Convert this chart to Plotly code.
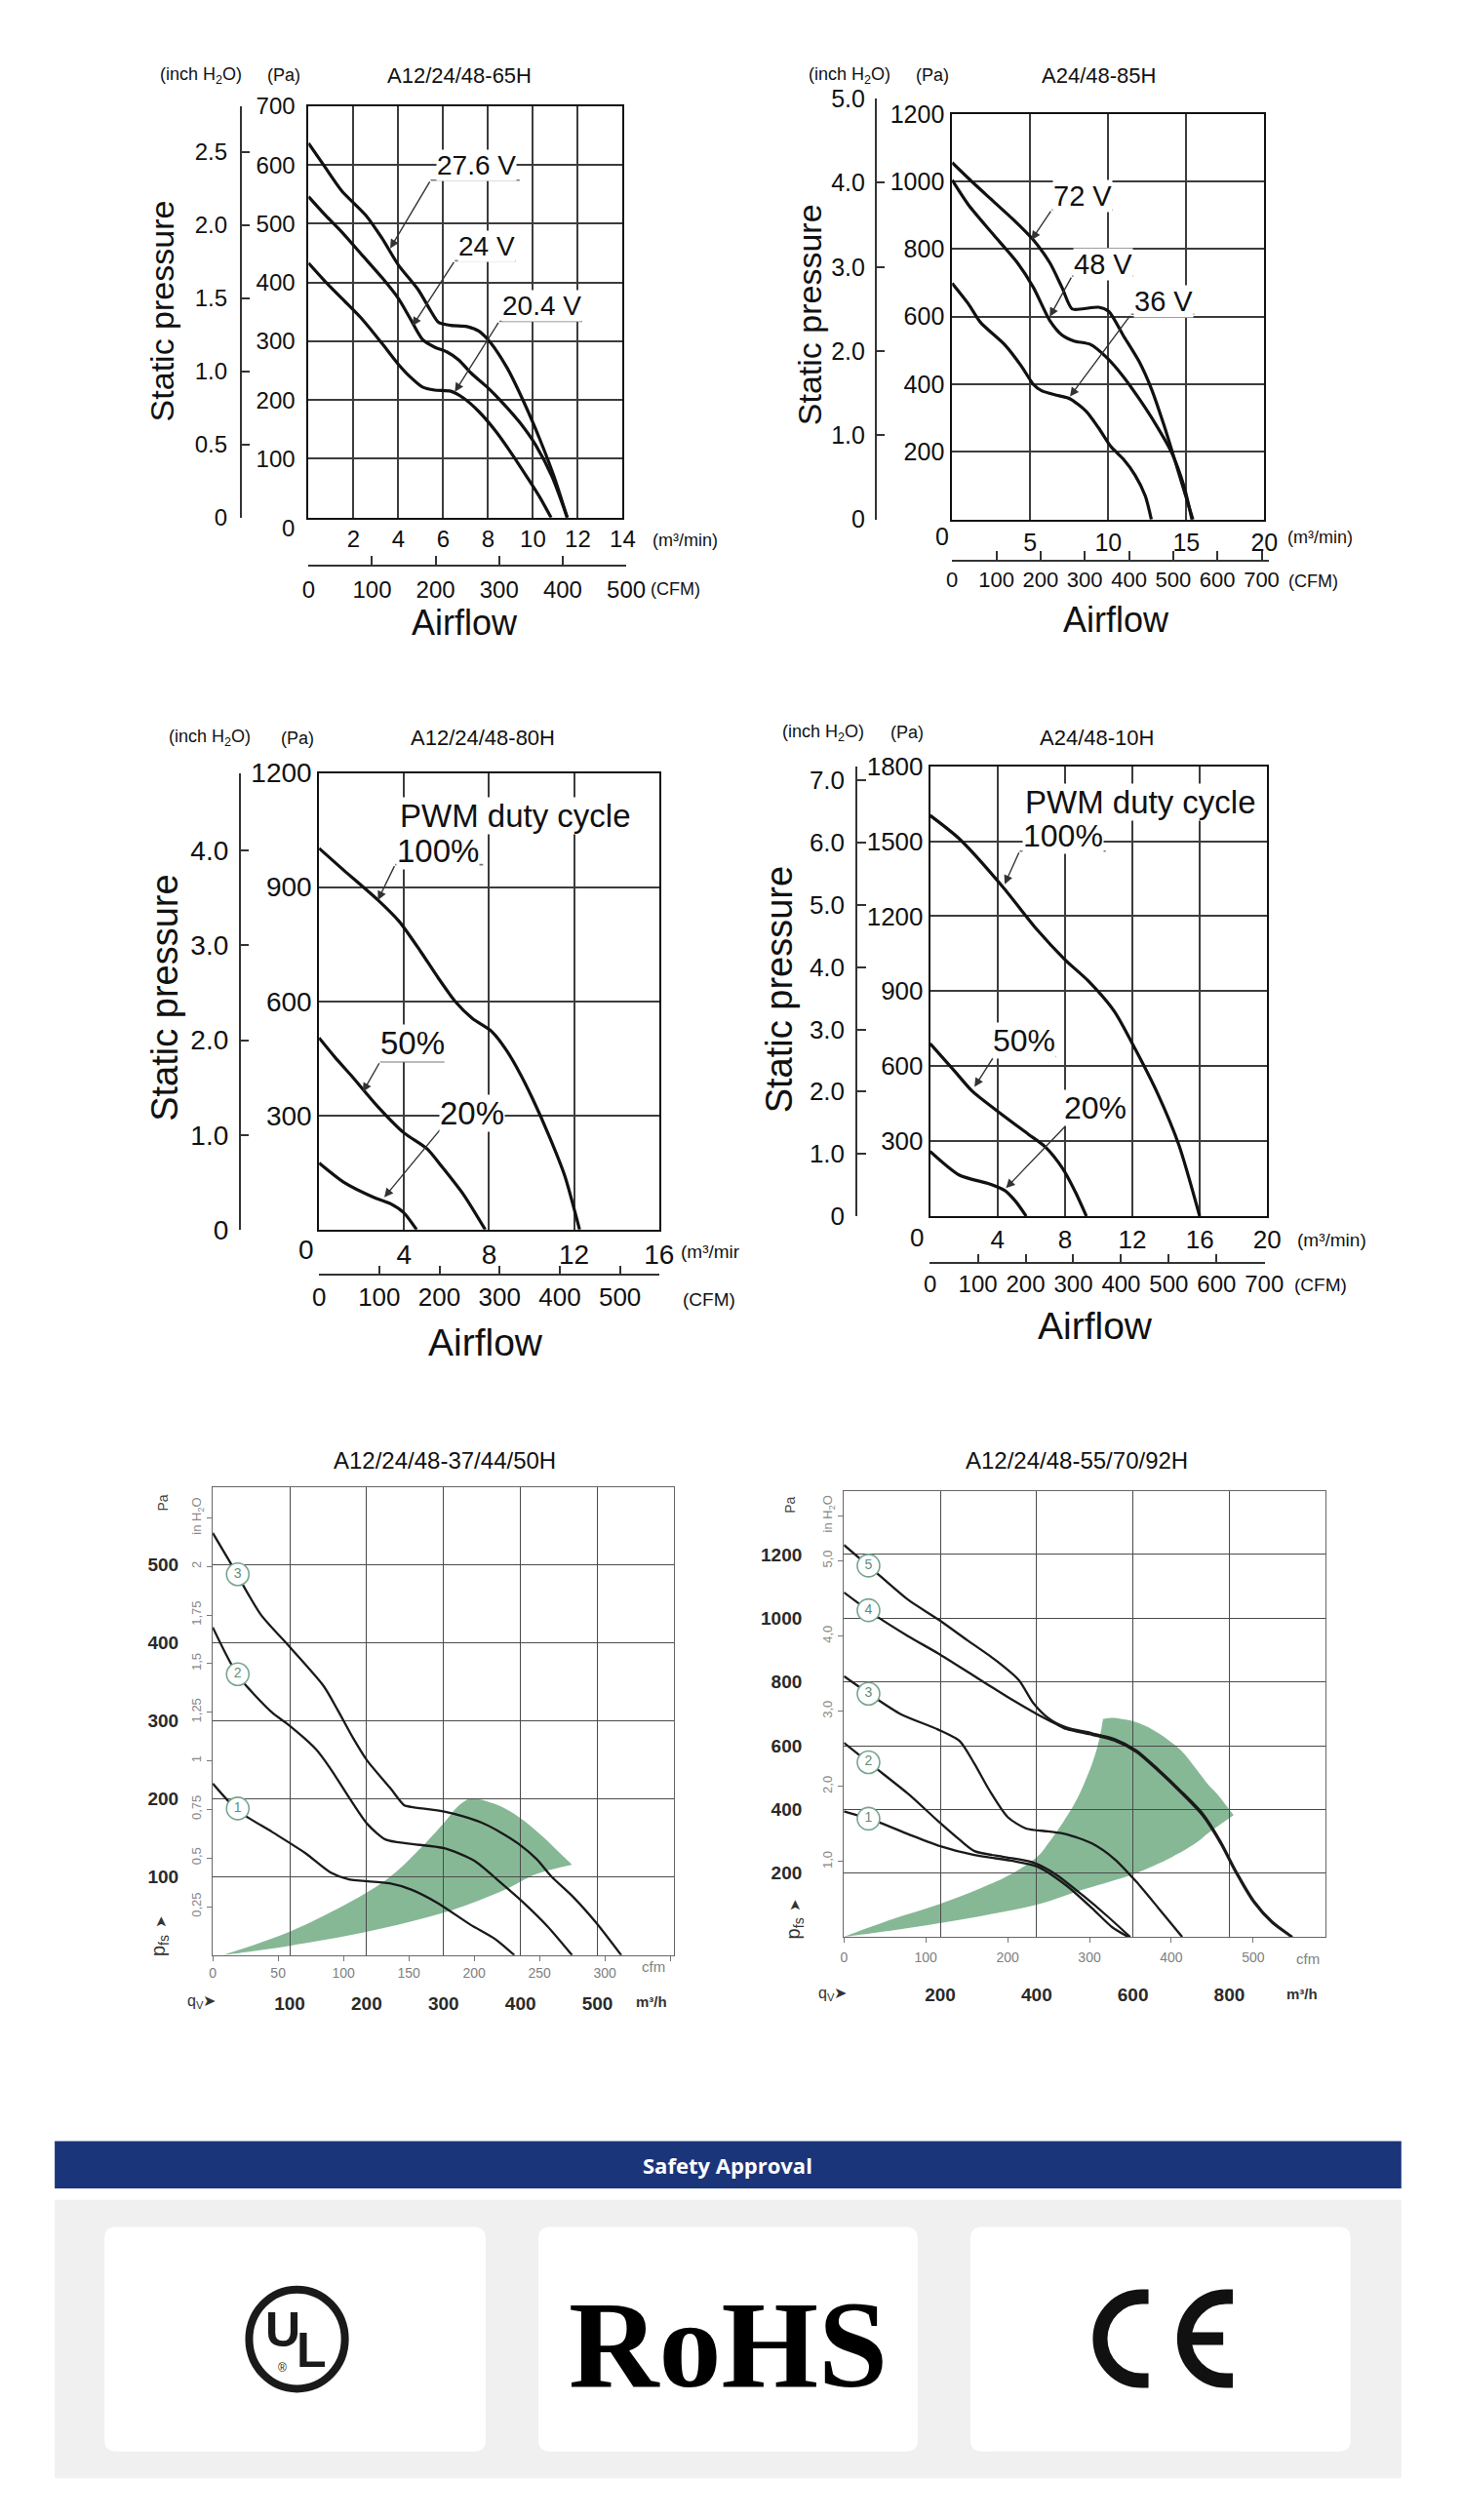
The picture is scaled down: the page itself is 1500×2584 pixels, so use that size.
import plotly.graph_objects as go

W, H = 1500, 2584
PA_PER_INCH = 249.0
CFM_PER_M3MIN = 35.315
M3H_PER_CFM = 1.699

SANS = "Liberation Sans, Arial, Helvetica, sans-serif"

# ------------------------------------------------------------------ data
# Chart 1: A12/24/48-65H   (m3/min , Pa)
c1_title = "A12/24/48-65H"
c1_flow_ticks = [2, 4, 6, 8, 10, 12, 14]
c1_pa_ticks = [100, 200, 300, 400, 500, 600, 700]
c1_inch_ticks = [0, 0.5, 1.0, 1.5, 2.0, 2.5]
c1_inch_text = ["0", "0.5", "1.0", "1.5", "2.0", "2.5"]
c1_cfm_ticks = [0, 100, 200, 300, 400, 500]
c1_names = ["27.6 V", "24 V", "20.4 V"]
c1_x_276 = [0, 0.76, 1.48, 2.56, 3.28, 4.0, 4.9, 5.44, 5.8, 6.34, 7.06, 7.6, 8.14, 8.86, 9.59, 10.3, 10.94, 11.53]
c1_y_276 = [637, 595, 556, 514, 475, 430, 387, 352, 332, 327, 325, 317, 296, 254, 197, 134, 70, 0]
c1_x_24 = [0, 0.76, 1.48, 2.38, 3.28, 4.0, 4.54, 5.08, 5.62, 6.16, 6.7, 7.24, 7.96, 8.68, 9.41, 10.13, 10.85, 11.53]
c1_y_24 = [546, 514, 486, 447, 408, 373, 338, 303, 290, 282, 268, 246, 222, 194, 162, 123, 70, 0]
c1_x_204 = [0, 0.76, 1.48, 2.38, 3.28, 4.0, 4.54, 5.08, 5.62, 6.34, 6.88, 7.6, 8.32, 9.05, 9.77, 10.3, 10.81]
c1_y_204 = [433, 401, 373, 338, 296, 261, 239, 222, 217, 215, 204, 180, 148, 109, 67, 35, 0]

# Chart 2: A24/48-85H
c2_title = "A24/48-85H"
c2_flow_ticks = [5, 10, 15, 20]
c2_pa_ticks = [200, 400, 600, 800, 1000, 1200]
c2_inch_ticks = [0, 1, 2, 3, 4, 5]
c2_inch_text = ["0", "1.0", "2.0", "3.0", "4.0", "5.0"]
c2_cfm_ticks = [0, 100, 200, 300, 400, 500, 600, 700]
c2_names = ["72 V", "48 V", "36 V"]
c2_x_72 = [0, 1.3, 2.6, 3.9, 5.2, 6.25, 7.03, 7.68, 8.33, 9.38, 10.03, 10.94, 11.98, 12.76, 13.54, 14.32, 15.42]
c2_y_72 = [1056, 998, 943, 888, 827, 760, 687, 623, 623, 628, 616, 546, 467, 387, 283, 167, 0]
c2_x_48 = [0, 1.04, 2.6, 4.17, 5.2, 6.25, 7.03, 7.81, 8.85, 9.9, 10.94, 11.98, 13.02, 14.06, 14.84, 15.36]
c2_y_48 = [1004, 931, 845, 760, 687, 589, 546, 528, 518, 479, 424, 357, 283, 198, 100, 0]
c2_x_36 = [0, 1.04, 1.82, 3.39, 4.43, 5.2, 5.73, 6.77, 7.55, 8.59, 9.38, 10.16, 10.94, 11.72, 12.37, 12.76]
c2_y_36 = [699, 638, 583, 516, 454, 400, 381, 367, 357, 320, 271, 216, 180, 131, 70, 0]

# Chart 3: A12/24/48-80H
c3_title = "A12/24/48-80H"
c3_flow_ticks = [4, 8, 12, 16]
c3_pa_ticks = [300, 600, 900, 1200]
c3_inch_ticks = [0, 1, 2, 3, 4]
c3_inch_text = ["0", "1.0", "2.0", "3.0", "4.0"]
c3_cfm_ticks = [0, 100, 200, 300, 400, 500]
c3_names = ["100%", "50%", "20%"]
c3_x_100 = [0, 1.15, 2.77, 3.78, 4.79, 5.6, 6.4, 7.21, 8.12, 8.83, 9.43, 10.04, 10.85, 11.56, 12.26]
c3_y_100 = [1002, 945, 866, 809, 730, 662, 600, 555, 521, 470, 413, 345, 243, 142, 0]
c3_x_50 = [0, 0.75, 1.56, 2.77, 3.98, 5.09, 5.8, 6.81, 7.82]
c3_y_50 = [504, 453, 402, 323, 255, 212, 164, 91, 0]
c3_x_20 = [0, 1.15, 2.57, 3.37, 3.98, 4.59]
c3_y_20 = [175, 125, 85, 68, 45, 0]

# Chart 4: A24/48-10H
c4_title = "A24/48-10H"
c4_flow_ticks = [4, 8, 12, 16, 20]
c4_pa_ticks = [300, 600, 900, 1200, 1500, 1800]
c4_inch_ticks = [0, 1, 2, 3, 4, 5, 6, 7]
c4_inch_text = ["0", "1.0", "2.0", "3.0", "4.0", "5.0", "6.0", "7.0"]
c4_cfm_ticks = [0, 100, 200, 300, 400, 500, 600, 700]
c4_names = ["100%", "50%", "20%"]
c4_x_100 = [0, 1.74, 4.29, 6.33, 8.0, 9.4, 10.93, 12.2, 13.49, 14.76, 15.99]
c4_y_100 = [1603, 1509, 1319, 1147, 1026, 940, 819, 664, 491, 284, 0]
c4_x_50 = [0, 1.48, 2.5, 4.29, 5.82, 6.85, 7.87, 8.63, 9.27]
c4_y_50 = [690, 578, 500, 405, 328, 276, 190, 95, 0]
c4_x_20 = [0, 1.74, 3.52, 4.42, 5.06, 5.7]
c4_y_20 = [259, 164, 129, 103, 60, 0]

# Chart 5: A12/24/48-37/44/50H   (m3/h , Pa)
c5_title = "A12/24/48-37/44/50H"
c5_flow_ticks = [100, 200, 300, 400, 500]
c5_pa_ticks = [100, 200, 300, 400, 500]
c5_cfm_ticks = [0, 50, 100, 150, 200, 250, 300, 350]
c5_cfm_text = ["0", "50", "100", "150", "200", "250", "300", ""]
c5_inch_ticks = [0.25, 0.5, 0.75, 1.0, 1.25, 1.5, 1.75, 2.0, 2.25]
c5_inch_text = ["0,25", "0,5", "0,75", "1", "1,25", "1,5", "1,75", "2", "in H<sub>2</sub>O"]
c5_curve_ids = ["3", "2", "1"]
c5_x_3 = [0, 24, 62, 100, 144, 163, 182, 201, 230, 249, 258, 301, 325, 349, 373, 397, 421, 440, 469, 498, 531]
c5_y_3 = [541, 501, 437, 395, 345, 313, 279, 249, 215, 192, 190, 184, 178, 170, 158, 143, 123, 101, 74, 42, 0]
c5_x_2 = [0, 33, 77, 100, 134, 153, 172, 201, 225, 254, 301, 340, 373, 402, 435, 467]
c5_y_2 = [420, 358, 311, 294, 264, 239, 210, 168, 148, 143, 137, 121, 94, 69, 37, 0]
c5_x_1 = [0, 33, 77, 120, 153, 177, 230, 258, 292, 335, 368, 392]
c5_y_1 = [220, 185, 158, 131, 106, 97, 92, 84, 67, 39, 20, 0]
c5_area_upper_x = [14, 100, 182, 230, 268, 299, 318, 333]
c5_area_upper_y = [0, 30, 70, 100, 135, 168, 190, 201]
c5_area_outer_x = [333, 354, 380, 405, 430, 452, 467]
c5_area_outer_y = [201, 198, 188, 172, 151, 130, 116]
c5_area_lower_x = [467, 421, 373, 299, 201, 100, 14]
c5_area_lower_y = [116, 104, 81, 54, 30, 12, 0]

# Chart 6: A12/24/48-55/70/92H
c6_title = "A12/24/48-55/70/92H"
c6_flow_ticks = [200, 400, 600, 800]
c6_pa_ticks = [200, 400, 600, 800, 1000, 1200]
c6_cfm_ticks = [0, 100, 200, 300, 400, 500]
c6_inch_ticks = [1, 2, 3, 4, 5, 5.6]
c6_inch_text = ["1,0", "2,0", "3,0", "4,0", "5,0", "in H<sub>2</sub>O"]
c6_curve_ids = ["5", "4", "3", "2", "1"]
c6_x_5 = [0, 65, 134, 195, 256, 317, 363, 393, 424, 462, 515, 561, 607, 653, 698, 744, 782, 813, 851, 889, 931]
c6_y_5 = [1230, 1146, 1057, 997, 931, 866, 806, 734, 687, 657, 639, 621, 585, 525, 460, 388, 299, 209, 113, 48, 0]
c6_x_4 = [0, 65, 134, 195, 271, 347, 401, 439, 462, 515, 561, 607, 653, 698, 744, 782, 813, 851, 889, 929]
c6_y_4 = [1081, 1009, 943, 890, 818, 746, 699, 669, 652, 634, 616, 580, 520, 455, 382, 293, 203, 108, 44, 0]
c6_x_3 = [0, 57, 118, 195, 240, 271, 302, 340, 378, 424, 462, 515, 561, 607, 653, 702]
c6_y_3 = [818, 758, 699, 651, 615, 543, 460, 376, 340, 331, 322, 293, 245, 173, 90, 0]
c6_x_2 = [0, 65, 134, 195, 240, 271, 332, 393, 439, 500, 546, 594]
c6_y_2 = [609, 531, 448, 364, 305, 269, 251, 233, 197, 125, 66, 0]
c6_x_1 = [0, 65, 134, 195, 271, 347, 401, 462, 515, 557, 590]
c6_y_1 = [394, 364, 322, 287, 257, 239, 221, 161, 90, 30, 0]
c6_area_upper_x = [0, 100, 195, 280, 347, 400, 424, 455, 485, 515, 530, 538]
c6_area_upper_y = [0, 55, 101, 150, 197, 250, 293, 360, 436, 543, 620, 684]
c6_area_outer_x = [538, 561, 610, 653, 700, 729, 755, 775, 809]
c6_area_outer_y = [684, 687, 672, 639, 585, 531, 480, 448, 382]
c6_area_lower_x = [809, 760, 729, 680, 601, 500, 401, 300, 195, 100, 0]
c6_area_lower_y = [382, 330, 293, 250, 197, 150, 101, 70, 42, 20, 0]

approvals = ["UL", "RoHS", "CE"]
banner_title = "Safety Approval"

# ------------------------------------------------------------------ helpers
fig = go.Figure()
layout = {}
shapes = []
annotations = []


def X(p):
    return p / W


def Y(p):
    return 1 - p / H


def P(x, y):
    return f"{X(x):.6f},{Y(y):.6f}"


def akey(kind, n):
    return f"{kind}axis" if n == 1 else f"{kind}axis{n}"


def aref(kind, n):
    return kind if n == 1 else f"{kind}{n}"


def dummy(xn, yn):
    fig.add_trace(go.Scatter(x=[None], y=[None], xaxis=aref("x", xn), yaxis=aref("y", yn),
                             mode="markers", hoverinfo="skip", showlegend=False))


def text(x, y, s, size, color="#111", family=SANS, angle=0, xanchor="center", bold=False):
    annotations.append(dict(x=X(x), y=Y(y), xref="paper", yref="paper", text=s, showarrow=False,
                            font=dict(size=size, color=color, family=family,
                                      weight="bold" if bold else "normal"),
                            textangle=angle, xanchor=xanchor, yanchor="middle"))


def top_chart(n, box, xmax, ymax, xt, yt, inch_x, inch_top, it, itext, cfm_y, cfm_max, ct,
              curves, labels, tsize, csize, stand, lsize):
    L, T, R, B = box
    gx, gy = aref("x", n), aref("y", n)
    tf = dict(size=tsize, family=SANS, color="#111")
    layout[akey("x", n)] = dict(domain=[X(L), X(R)], range=[0, xmax], anchor=gy,
                                tickvals=xt, ticktext=[str(v) for v in xt], ticks="", ticklen=0,
                                tickangle=0, showgrid=True, gridcolor="#3c3c3c", gridwidth=1.6,
                                showline=True, linecolor="#111", linewidth=1.8, mirror=True,
                                zeroline=False, ticklabelstandoff=stand[0], tickfont=tf)
    layout[akey("y", n)] = dict(domain=[Y(B), Y(T)], range=[0, ymax], anchor=gx,
                                tickvals=yt, ticktext=[str(v) for v in yt], ticks="", ticklen=0,
                                showgrid=True, gridcolor="#3c3c3c", gridwidth=1.6,
                                showline=True, linecolor="#111", linewidth=1.8, mirror=True,
                                zeroline=False, ticklabelstandoff=stand[1], tickfont=tf)
    # inch H2O axis
    pix_pa = (B - T) / ymax
    line_top = B - inch_top * PA_PER_INCH * pix_pa
    layout[akey("x", n + 1)] = dict(domain=[X(inch_x), X(inch_x + 2)], range=[0, 1],
                                    visible=False, anchor=aref("y", n + 1))
    layout[akey("y", n + 1)] = dict(domain=[Y(B), Y(line_top)], range=[0, inch_top],
                                    anchor=aref("x", n + 1), side="left", showline=True,
                                    linecolor="#333", linewidth=1.5, ticks="inside", ticklen=9,
                                    tickwidth=1.5, tickcolor="#333", tickvals=it, ticktext=itext,
                                    showgrid=False, zeroline=False, ticklabelstandoff=stand[2],
                                    tickfont=tf)
    dummy(n + 1, n + 1)
    # CFM axis
    pix_m3 = (R - L) / xmax
    lo, hi = -0.5, cfm_max + 0.5
    xl = L + lo / CFM_PER_M3MIN * pix_m3
    xr = L + hi / CFM_PER_M3MIN * pix_m3
    layout[akey("x", n + 2)] = dict(domain=[X(xl), X(xr)], range=[lo, hi], anchor=aref("y", n + 2),
                                    showline=True, linecolor="#333", linewidth=1.5, ticks="inside",
                                    ticklen=9, tickwidth=1.5, tickcolor="#333", tickvals=ct,
                                    ticktext=[str(v) for v in ct], showgrid=False, zeroline=False,
                                    tickangle=0, ticklabelstandoff=stand[3],
                                    tickfont=dict(size=csize, family=SANS, color="#111"))
    layout[akey("y", n + 2)] = dict(domain=[Y(cfm_y), Y(cfm_y - 2)], range=[0, 1], visible=False,
                                    anchor=aref("x", n + 2))
    dummy(n + 2, n + 2)
    for xs, ys in curves:
        fig.add_trace(go.Scatter(x=xs, y=ys, xaxis=gx, yaxis=gy, mode="lines", hoverinfo="skip",
                                 line=dict(color="#111", width=3.2, shape="spline", smoothing=0.7)))
    for lab in labels:
        name, tx, ty, ux0, ux1, uy, ptx, pty = lab
        shapes.append(dict(type="line", xref=gx, yref=gy, x0=ux0, x1=ux1, y0=uy, y1=uy,
                           line=dict(color="#777", width=1.6), layer="above"))
        annotations.append(dict(x=ptx, y=pty, ax=ux0, ay=uy, xref=gx, yref=gy, axref=gx, ayref=gy,
                                text="", showarrow=True, arrowhead=2, arrowsize=1.3,
                                arrowwidth=1.4, arrowcolor="#333", standoff=0))
        annotations.append(dict(x=tx, y=ty, xref=gx, yref=gy, text=name, showarrow=False,
                                bgcolor="white", borderpad=0,
                                font=dict(size=lsize, family=SANS, color="#111")))


def cr(pts):
    s = ""
    for i in range(len(pts) - 1):
        p0 = pts[i - 1] if i > 0 else pts[i]
        p1, p2 = pts[i], pts[i + 1]
        p3 = pts[i + 2] if i + 2 < len(pts) else pts[i + 1]
        c1 = (p1[0] + (p2[0] - p0[0]) / 6, p1[1] + (p2[1] - p0[1]) / 6)
        c2 = (p2[0] - (p3[0] - p1[0]) / 6, p2[1] - (p3[1] - p1[1]) / 6)
        s += f" C {c1[0]:.3f},{c1[1]:.3f} {c2[0]:.3f},{c2[1]:.3f} {p2[0]:.3f},{p2[1]:.3f}"
    return s


def bottom_chart(n, box, xmax, ymax, xt, yt, ct, ctext, it, itext, pa_per_inch, curves, ids,
                 circ_x, circ_y, area, stand):
    L, T, R, B = box
    gx, gy = aref("x", n), aref("y", n)
    bold = dict(size=19, family=SANS, color="#2a2a2a", weight="bold")
    layout[akey("x", n)] = dict(domain=[X(L), X(R)], range=[0, xmax], anchor=gy, tickvals=xt,
                                ticktext=[str(v) for v in xt], ticks="", ticklen=0, tickangle=0,
                                showgrid=True, gridcolor="#4a4a4a", gridwidth=1.3, showline=True,
                                linecolor="#666", linewidth=1.3, mirror=True, zeroline=False,
                                ticklabelstandoff=stand[0], tickfont=bold)
    layout[akey("x", n + 1)] = dict(overlaying=gx, anchor=gy, side="bottom",
                                    range=[0, xmax / M3H_PER_CFM], tickvals=ct, ticktext=ctext,
                                    ticks="outside", ticklen=5, tickcolor="#777", tickwidth=1.2,
                                    tickangle=0, showgrid=False, showline=False, zeroline=False,
                                    ticklabelstandoff=stand[1],
                                    tickfont=dict(size=14, family=SANS, color="#808080"))
    layout[akey("y", n)] = dict(domain=[Y(B), Y(T)], range=[0, ymax], anchor=gx, tickvals=yt,
                                ticktext=[str(v) for v in yt], ticks="", ticklen=0, showgrid=True,
                                gridcolor="#4a4a4a", gridwidth=1.3, showline=True,
                                linecolor="#666", linewidth=1.3, mirror=True, zeroline=False,
                                ticklabelstandoff=stand[2], tickfont=bold)
    layout[akey("y", n + 1)] = dict(overlaying=gy, anchor=gx, side="left",
                                    range=[0, ymax / pa_per_inch], tickvals=it, ticktext=itext,
                                    tickangle=-90, ticks="outside", ticklen=5, tickcolor="#777",
                                    tickwidth=1.2, showgrid=False, showline=False, zeroline=False,
                                    ticklabelstandoff=stand[3],
                                    tickfont=dict(size=13, family=SANS, color="#888"))
    dummy(n + 1, n)
    dummy(n, n + 1)
    (ux, uy), (ox, oy), (lx, ly) = area
    pts_u = list(zip(ux, uy))
    pts_o = list(zip(ox, oy))
    pts_l = list(zip(lx, ly))
    path = f"M {pts_u[0][0]},{pts_u[0][1]}" + cr(pts_u) + cr(pts_o) + cr(pts_l) + " Z"
    shapes.append(dict(type="path", xref=gx, yref=gy, path=path, fillcolor="#86b896",
                       line=dict(width=0), layer="below"))
    for xs, ys in curves:
        fig.add_trace(go.Scatter(x=xs, y=ys, xaxis=gx, yaxis=gy, mode="lines", hoverinfo="skip",
                                 line=dict(color="#1a1a1a", width=2.3, shape="spline", smoothing=0.7)))
    fig.add_trace(go.Scatter(x=circ_x, y=circ_y, xaxis=gx, yaxis=gy, mode="markers+text",
                             text=ids, textposition="middle center", hoverinfo="skip",
                             marker=dict(size=23, color="white", line=dict(color="#76a58e", width=1.6)),
                             textfont=dict(size=14, family=SANS, color="#5f8f78")))


# ------------------------------------------------------------------ chart 1
top_chart(1, (315, 95, 643, 522), 14, 700, c1_flow_ticks, c1_pa_ticks, 245, 700 / PA_PER_INCH,
          c1_inch_ticks, c1_inch_text, 571, 500, c1_cfm_ticks,
          [(c1_x_276, c1_y_276), (c1_x_24, c1_y_24), (c1_x_204, c1_y_204)],
          [(c1_names[0], 7.5, 600, 5.44, 9.41, 574, 3.64, 458),
           (c1_names[1], 7.96, 462, 6.52, 9.23, 437, 4.63, 326),
           (c1_names[2], 10.4, 360, 8.5, 12.2, 334, 6.52, 214)],
          24, 24, (0, 7, 8, 3), 28)
text(472, 63, c1_title, 22)
text(203, 63, "(inch H<sub>2</sub>O)", 18)
text(289, 63, "(Pa)", 18)
text(162, 308, "Static pressure", 34, angle=-90)
text(478, 631, "Airflow", 36)
text(294, 533, "0", 24)
text(708, 546, "(m³/min)", 18)
text(698, 596, "(CFM)", 18)

# ------------------------------------------------------------------ chart 2
top_chart(4, (987, 103, 1313, 524), 20, 1200, c2_flow_ticks, c2_pa_ticks, 908, 5.0,
          c2_inch_ticks, c2_inch_text, 566, 715, c2_cfm_ticks,
          [(c2_x_72, c2_y_72), (c2_x_48, c2_y_48), (c2_x_36, c2_y_36)],
          [(c2_names[0], 8.33, 957, 6.38, 10.29, 916, 5.08, 827),
           (c2_names[1], 9.64, 756, 7.68, 11.59, 720, 6.25, 600),
           (c2_names[2], 13.54, 646, 11.46, 15.5, 607, 7.55, 364)],
          25, 22, (0, 1, 5, 0), 29)
text(1140, 63, c2_title, 22)
text(880, 63, "(inch H<sub>2</sub>O)", 18)
text(966, 63, "(Pa)", 18)
text(838, 311, "Static pressure", 34, angle=-90)
text(1158, 628, "Airflow", 36)
text(977, 541, "0", 25)
text(1371, 543, "(m³/min)", 18)
text(1364, 588, "(CFM)", 18)

# ------------------------------------------------------------------ chart 3
top_chart(7, (326, 787, 681, 1261), 16, 1200, c3_flow_ticks, c3_pa_ticks, 244, 1200 / PA_PER_INCH,
          c3_inch_ticks, c3_inch_text, 1307, 565, c3_cfm_ticks,
          [(c3_x_100, c3_y_100), (c3_x_50, c3_y_50), (c3_x_20, c3_y_20)],
          [(c3_names[0], 5.6, 994, 3.58, 7.72, 959, 2.77, 866),
           (c3_names[1], 4.38, 491, 2.87, 5.9, 441, 2.06, 362),
           (c3_names[2], 7.21, 305, 6.0, 8.73, 283, 3.07, 85)],
          28, 26, (0, 0, 5, 0), 33)
annotations.append(dict(x=9.23, y=1087, xref="x7", yref="y7", text="PWM duty cycle", showarrow=False,
                        bgcolor="white", borderpad=0, font=dict(size=33, family=SANS, color="#111")))
text(497, 751, c3_title, 22)
text(212, 751, "(inch H<sub>2</sub>O)", 18)
text(303, 751, "(Pa)", 18)
text(165, 1021, "Static pressure", 38, angle=-90)
text(500, 1378, "Airflow", 39)
text(313, 1282, "0", 28)
text(702, 1284, "(m³/mir", 19, xanchor="left")
text(733, 1333, "(CFM)", 19)

# ------------------------------------------------------------------ chart 4
top_chart(10, (964, 780, 1316, 1247), 20, 1800, c4_flow_ticks, c4_pa_ticks, 888, 1800 / PA_PER_INCH,
          c4_inch_ticks, c4_inch_text, 1295, 701, c4_cfm_ticks,
          [(c4_x_100, c4_y_100), (c4_x_50, c4_y_50), (c4_x_20, c4_y_20)],
          [(c4_names[0], 7.87, 1522, 5.31, 10.42, 1460, 4.42, 1328),
           (c4_names[1], 5.57, 702, 3.78, 7.48, 638, 2.63, 517),
           (c4_names[2], 9.78, 435, 8.12, 11.57, 367, 4.5, 112)],
          26, 24, (0, 0, 6, 0), 32)
annotations.append(dict(x=12.47, y=1655, xref="x10", yref="y10", text="PWM duty cycle", showarrow=False,
                        bgcolor="white", borderpad=0, font=dict(size=33, family=SANS, color="#111")))
text(1138, 751, c4_title, 22)
text(852, 745, "(inch H<sub>2</sub>O)", 18)
text(940, 745, "(Pa)", 18)
text(806, 1012, "Static pressure", 38, angle=-90)
text(1136, 1361, "Airflow", 39)
text(950, 1269, "0", 26)
text(1383, 1272, "(m³/min)", 19)
text(1372, 1318, "(CFM)", 19)

# ------------------------------------------------------------------ chart 5
bottom_chart(13, (215, 1528, 697, 2014), 600, 600, c5_flow_ticks, c5_pa_ticks, c5_cfm_ticks,
             c5_cfm_text, c5_inch_ticks, c5_inch_text, PA_PER_INCH,
             [(c5_x_3, c5_y_3), (c5_x_2, c5_y_2), (c5_x_1, c5_y_1)], c5_curve_ids,
             [32.5, 32.5, 32.5], [488, 360, 188],
             ((c5_area_upper_x, c5_area_upper_y), (c5_area_outer_x, c5_area_outer_y),
              (c5_area_lower_x, c5_area_lower_y)),
             (32, 0, 30, 1))
text(457, 1500, c5_title, 24)
text(163, 1545, "Pa", 14, color="#444", angle=-90)
text(160, 2004, "p<sub>fs</sub>", 20, color="#333", angle=-90)
text(160, 1980, "➤", 15, color="#333", angle=-90)
text(203, 2062, "q<sub>V</sub>➤", 16, color="#333")
text(675, 2026, "cfm", 15, color="#808080")
text(673, 2062, "m³/h", 15, color="#333", bold=True)

# ------------------------------------------------------------------ chart 6
bottom_chart(15, (874, 1532, 1377, 1995), 1000, 1400, c6_flow_ticks, c6_pa_ticks, c6_cfm_ticks,
             [str(v) for v in c6_cfm_ticks], c6_inch_ticks, c6_inch_text, 236.0,
             [(c6_x_5, c6_y_5), (c6_x_4, c6_y_4), (c6_x_3, c6_y_3), (c6_x_2, c6_y_2), (c6_x_1, c6_y_1)],
             c6_curve_ids, [51, 51, 51, 51, 51], [1165, 1025, 763, 548, 371],
             ((c6_area_upper_x, c6_area_upper_y), (c6_area_outer_x, c6_area_outer_y),
              (c6_area_lower_x, c6_area_lower_y)),
             (42, 3, 38, 1))
text(1117, 1500, c6_title, 24)
text(818, 1547, "Pa", 14, color="#444", angle=-90)
text(822, 1986, "p<sub>fs</sub>", 20, color="#333", angle=-90)
text(822, 1962, "➤", 15, color="#333", angle=-90)
text(862, 2054, "q<sub>V</sub>➤", 16, color="#333")
text(1358, 2018, "cfm", 15, color="#808080")
text(1352, 2054, "m³/h", 15, color="#333", bold=True)

# ------------------------------------------------------------------ safety approval band
shapes.append(dict(type="rect", xref="paper", yref="paper", x0=X(50), x1=X(1456), y0=Y(2256), y1=Y(2207),
                   fillcolor="#1b357b", line=dict(width=0), layer="below"))
shapes.append(dict(type="rect", xref="paper", yref="paper", x0=X(50), x1=X(1456), y0=Y(2557), y1=Y(2268),
                   fillcolor="#f0f0f0", line=dict(width=0), layer="below"))
text(753, 2232, banner_title, 22, color="white", family="Open Sans, Liberation Sans, sans-serif", bold=True)


def rrect(x0, y0, x1, y1, r):
    return (f"M {P(x0 + r, y0)} L {P(x1 - r, y0)} Q {P(x1, y0)} {P(x1, y0 + r)} "
            f"L {P(x1, y1 - r)} Q {P(x1, y1)} {P(x1 - r, y1)} L {P(x0 + r, y1)} "
            f"Q {P(x0, y1)} {P(x0, y1 - r)} L {P(x0, y0 + r)} Q {P(x0, y0)} {P(x0 + r, y0)} Z")


for bx0, bx1 in [(102, 500), (555, 951), (1006, 1403)]:
    shapes.append(dict(type="path", xref="paper", yref="paper", path=rrect(bx0, 2296, bx1, 2529, 12),
                       fillcolor="white", line=dict(width=0), layer="below"))

# UL mark
shapes.append(dict(type="circle", xref="paper", yref="paper", x0=X(253), x1=X(353), y0=Y(2464), y1=Y(2361),
                   line=dict(color="#1a1a1a", width=8), fillcolor="rgba(0,0,0,0)"))
text(288, 2403, "U", 50, color="#1a1a1a", bold=True)
text(318, 2424, "L", 50, color="#1a1a1a", bold=True)
text(288, 2442, "®", 12, color="#1a1a1a")

# RoHS mark
text(753, 2418, approvals[1], 128, color="#000", family="Liberation Serif, Times New Roman, serif", bold=True)


# CE mark
def arc_left(cx, cy, r):
    k = 0.5523 * r
    return (f" C {P(cx - k, cy - r)} {P(cx - r, cy - k)} {P(cx - r, cy)}"
            f" C {P(cx - r, cy + k)} {P(cx - k, cy + r)} {P(cx, cy + r)}")


for cx in (1185, 1273):
    r = 43.5
    path = f"M {P(cx + 7, 2412 - r)} L {P(cx, 2412 - r)}" + arc_left(cx, 2412, r) + f" L {P(cx + 7, 2412 + r)}"
    shapes.append(dict(type="path", xref="paper", yref="paper", path=path,
                       line=dict(color="#111", width=15), fillcolor="rgba(0,0,0,0)"))
shapes.append(dict(type="line", xref="paper", yref="paper", x0=X(1236), x1=X(1270), y0=Y(2412), y1=Y(2412),
                   line=dict(color="#111", width=13)))

layout.update(width=W, height=H, margin=dict(l=0, r=0, t=0, b=0), paper_bgcolor="white",
              plot_bgcolor="rgba(0,0,0,0)", showlegend=False, hovermode=False,
              shapes=shapes, annotations=annotations)
fig.update_layout(**layout)
fig.write_html("out.html", config={"displayModeBar": False},
               post_script="document.body.style.margin='0px';")
